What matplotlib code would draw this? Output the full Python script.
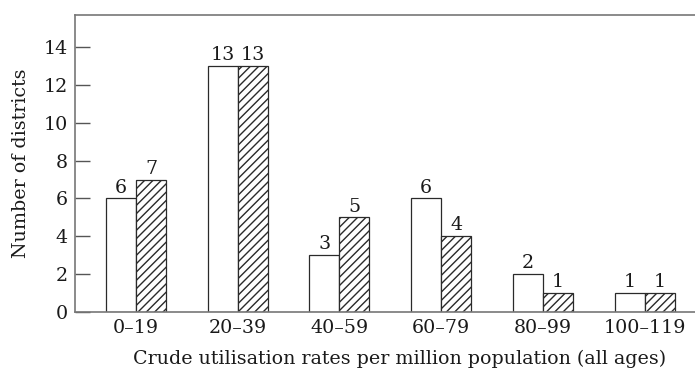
import numpy as np
import matplotlib.pyplot as plt

plt.rcParams['font.family'] = ['DejaVu Serif']
plt.rcParams['hatch.linewidth'] = 1.0

categories = ['0–19', '20–39', '40–59', '60–79', '80–99', '100–119']
first = [6, 13, 3, 6, 2, 1]
second = [7, 13, 5, 4, 1, 1]

fig = plt.figure(figsize=(6.95, 3.69), dpi=100)
# the frame runs past the right edge of the picture
ax = fig.add_axes([75 / 695, 57 / 369, 650 / 695, 297 / 369])

x = np.arange(len(categories))
w = 0.295
b1 = ax.bar(x - w / 2, first, w, color='white', edgecolor='#2a2a2a', linewidth=0.9)
b2 = ax.bar(x + w / 2, second, w, color='white', edgecolor='#2a2a2a', linewidth=0.9,
            hatch='////')

for bars, vals in ((b1, first), (b2, second)):
    for r, v in zip(bars, vals):
        ax.text(r.get_x() + r.get_width() / 2, v + 0.1, str(v),
                ha='center', va='bottom', fontsize=13.7, color='#1a1a1a')

ax.set_xlim(-0.6, 5.79)
ax.set_ylim(0, 15.7)
ax.set_xticks(x)
ax.set_xticklabels(categories, fontsize=13.7, color='#1a1a1a')
ax.set_yticks(range(0, 15, 2))
ax.tick_params(axis='y', direction='in', length=11, width=1, color='#555555',
               labelsize=13.7, labelcolor='#1a1a1a', pad=5)
ax.tick_params(axis='x', length=0, pad=5)
for s in ('top', 'left', 'bottom'):
    ax.spines[s].set_color('#777777')
    ax.spines[s].set_linewidth(1.2)
ax.spines['right'].set_visible(False)

ax.set_xlabel('Crude utilisation rates per million population (all ages)',
              fontsize=13.7, color='#1a1a1a', labelpad=9)
ax.set_ylabel('Number of districts', fontsize=13.7, color='#1a1a1a', labelpad=10)

fig.savefig('out.png', dpi=100)
